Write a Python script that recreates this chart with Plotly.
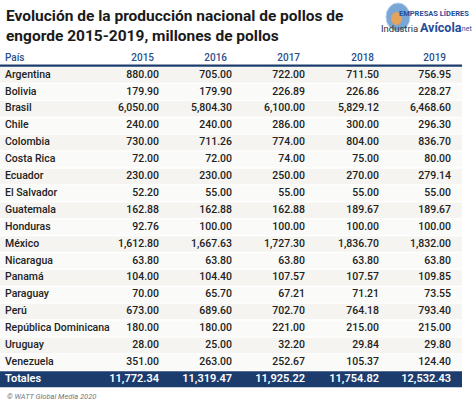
import plotly.graph_objects as go

countries = ["Argentina", "Bolivia", "Brasil", "Chile", "Colombia", "Costa Rica", "Ecuador",
             "El Salvador", "Guatemala", "Honduras", "México", "Nicaragua", "Panamá", "Paraguay",
             "Perú", "República Dominicana", "Uruguay", "Venezuela"]
years = ["2015", "2016", "2017", "2018", "2019"]
v2015 = [880.00, 179.90, 6050.00, 240.00, 730.00, 72.00, 230.00, 52.20, 162.88, 92.76, 1612.80,
         63.80, 104.00, 70.00, 673.00, 180.00, 28.00, 351.00]
v2016 = [705.00, 179.90, 5804.30, 240.00, 711.26, 72.00, 230.00, 55.00, 162.88, 100.00, 1667.63,
         63.80, 104.40, 65.70, 689.60, 180.00, 25.00, 263.00]
v2017 = [722.00, 226.89, 6100.00, 286.00, 774.00, 74.00, 250.00, 55.00, 162.88, 100.00, 1727.30,
         63.80, 107.57, 67.21, 702.70, 221.00, 32.20, 252.67]
v2018 = [711.50, 226.86, 5829.12, 300.00, 804.00, 75.00, 270.00, 55.00, 189.67, 100.00, 1836.70,
         63.80, 107.57, 71.21, 764.18, 215.00, 29.84, 105.37]
v2019 = [756.95, 228.27, 6468.60, 296.30, 836.70, 80.00, 279.14, 55.00, 189.67, 100.00, 1832.00,
         63.80, 109.85, 73.55, 793.40, 215.00, 29.80, 124.40]
totals = [11772.34, 11319.47, 11925.22, 11754.82, 12532.43]
series = [v2015, v2016, v2017, v2018, v2019]

title_lines = ["Evolución de la producción nacional de pollos de",
               "engorde 2015-2019, millones de pollos"]
header_first = "País"
total_label = "Totales"
source = "© WATT Global Media 2020"

NAVY = "#1d3c6e"
BLUE = "#2b4f8c"
LOGO = "#1f4d9a"
TXT = "#222222"
FONT = "Roboto"

col_right = [159, 232, 305, 379, 451]   # right edge (x units) of each value column
n = len(countries)
row_px = 16.9
top_px = 75.0
H = 404
y_top = -top_px / row_px
y_bot = (H - top_px) / row_px

fig = go.Figure()

shapes = []
for i in range(n):
    shapes.append(dict(type="rect", xref="x", yref="y", x0=0, x1=462, y0=i - 0.46, y1=i + 0.46,
                       fillcolor="#f5f4f1" if i % 2 == 0 else "#fafaf8", line_width=0, layer="below"))
shapes.append(dict(type="rect", xref="x", yref="y", x0=0, x1=462, y0=n - 0.47, y1=n + 0.47,
                   fillcolor=NAVY, line_width=0, layer="below"))
shapes.append(dict(type="line", xref="x", yref="y", x0=0, x1=462, y0=-0.55, y1=-0.55,
                   line=dict(color=NAVY, width=2.2)))

def text_trace(xs, ys, texts, pos, size, color, weight):
    fig.add_trace(go.Scatter(x=xs, y=ys, mode="text", text=texts, textposition=pos,
                             textfont=dict(family=FONT, size=size, color=color, weight=weight),
                             hoverinfo="skip", showlegend=False))

text_trace([5] * n, list(range(n)), countries, "middle right", 10.5, TXT, 500)
for j, vals in enumerate(series):
    text_trace([col_right[j]] * n, list(range(n)), [f"{v:,.2f}" for v in vals],
               "middle left", 10.5, TXT, 500)
text_trace([5], [-1], [header_first], "middle right", 10, BLUE, 500)
text_trace([c - 5 for c in col_right], [-1] * 5, years, "middle left", 10, BLUE, 500)
text_trace([5], [n], [total_label], "middle right", 11, "white", 600)
text_trace(col_right, [n] * 5, [f"{v:,.2f}" for v in totals], "middle left", 11, "white", 600)

annotations = [
    dict(text="<br>".join(title_lines), xref="x", yref="paper", x=4, y=1 - 5 / H,
         xanchor="left", yanchor="top", align="left", showarrow=False,
         font=dict(family=FONT, size=15.5, color="#1a1a1a", weight=700)),
    dict(text=source, xref="x", yref="y", x=5, y=n + 1.05, xanchor="left", yanchor="middle",
         showarrow=False, font=dict(family=FONT, size=7.5, color="#777777", style="italic")),
    dict(text="<b>EMPRESAS LÍDERES</b>", xref="x", yref="paper", x=471, y=1 - 13 / H,
         xanchor="right", yanchor="middle", showarrow=False,
         font=dict(family=FONT, size=7.5, color=LOGO)),
    dict(text="Industria", xref="x", yref="paper", x=420, y=1 - 28 / H,
         xanchor="right", yanchor="middle", showarrow=False,
         font=dict(family=FONT, size=9.5, color="#333333")),
    dict(text="<b>Avícola</b>", xref="x", yref="paper", x=418, y=1 - 27 / H,
         xanchor="left", yanchor="middle", showarrow=False,
         font=dict(family=FONT, size=12.5, color=LOGO)),
    dict(text=".net", xref="x", yref="paper", x=458, y=1 - 29 / H,
         xanchor="left", yanchor="middle", showarrow=False,
         font=dict(family=FONT, size=7, color=LOGO)),
]
shapes.append(dict(type="circle", xref="x", yref="paper",
                   x0=386, x1=410, y0=1 - 31 / H, y1=1 - 3 / H,
                   fillcolor="#7aa6d6", line=dict(color="#b5cfee", width=1), layer="below"))
shapes.append(dict(type="circle", xref="x", yref="paper",
                   x0=391, x1=402, y0=1 - 25 / H, y1=1 - 12 / H,
                   fillcolor="#e3a35a", line_width=0, layer="below"))

fig.update_layout(
    width=474, height=404, margin=dict(l=0, r=0, t=0, b=0),
    paper_bgcolor="white", plot_bgcolor="white",
    xaxis=dict(range=[0, 474], visible=False, fixedrange=True),
    yaxis=dict(range=[y_bot, y_top], visible=False, fixedrange=True),
    shapes=shapes, annotations=annotations, showlegend=False,
)

fig.write_html("out.html", config={"displayModeBar": False, "staticPlot": True},
               post_script="document.body.style.margin='0';document.body.style.overflow='hidden';")
